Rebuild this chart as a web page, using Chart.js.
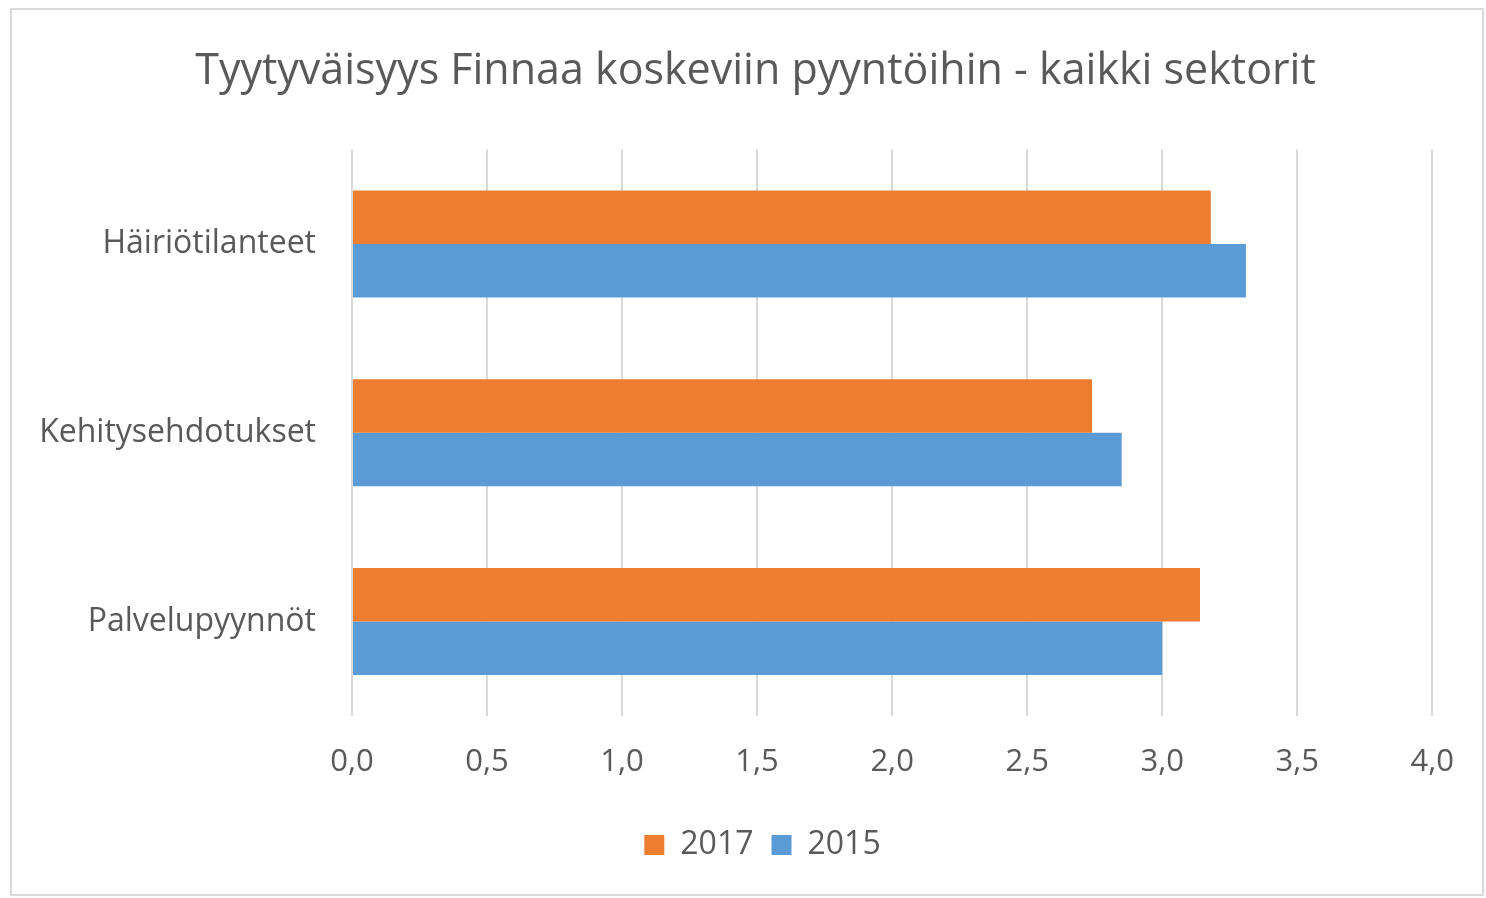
<!DOCTYPE html>
<html lang="fi">
<head>
    <meta charset="UTF-8">
    <title>Tyytyväisyys Finnaa koskeviin pyyntöihin</title>
    <script src="https://cdn.jsdelivr.net/npm/chart.js"></script>
    <style>
        html, body { margin: 0; padding: 0; background: #fff; }
        #wrap {
            position: absolute; left: 10px; top: 8px;
            width: 1474px; height: 888px;
            border: 2px solid #d9d9d9;
            box-sizing: border-box;
        }
    </style>
</head>
<body>
    <div id="wrap"><canvas id="myChart"></canvas></div>
    <script>
        // Kategoriat ja sarjat
        const categories = ['Häiriötilanteet', 'Kehitysehdotukset', 'Palvelupyynnöt'];
        const values2017 = [3.18, 2.74, 3.14];
        const values2015 = [3.31, 2.85, 3.00];
        const xTicks = [0, 0.5, 1.0, 1.5, 2.0, 2.5, 3.0, 3.5, 4.0];

        const font = '"Open Sans", "Noto Sans", sans-serif';
        const textColor = '#595959';

        // otsikko ja selite hieman oikealle, kuten Excelissä
        const shiftPlugin = {
            id: 'shiftBlocks',
            afterLayout(chart) {
                chart.titleBlock.left += 26;
                chart.titleBlock.right += 26;
                chart.legend.left += 33;
                chart.legend.right += 33;
            }
        };

        const ctx = document.getElementById('myChart').getContext('2d');
        const myChart = new Chart(ctx, {
            type: 'bar',
            data: {
                labels: categories,
                datasets: [
                    {
                        label: '2017',
                        data: values2017,
                        backgroundColor: '#ED7D31',
                        categoryPercentage: 0.567,
                        barPercentage: 1.0
                    },
                    {
                        label: '2015',
                        data: values2015,
                        backgroundColor: '#5B9BD5',
                        categoryPercentage: 0.567,
                        barPercentage: 1.0
                    }
                ]
            },
            plugins: [shiftPlugin],
            options: {
                indexAxis: 'y',
                responsive: true,
                maintainAspectRatio: false,
                animation: false,
                layout: { padding: { left: 0, right: 35, top: 0, bottom: 23 } },
                plugins: {
                    title: {
                        display: true,
                        text: 'Tyytyväisyys Finnaa koskeviin pyyntöihin - kaikki sektorit',
                        color: textColor,
                        font: { family: font, size: 43, weight: 'normal' },
                        padding: { top: 36, bottom: 52 }
                    },
                    legend: {
                        position: 'bottom',
                        labels: {
                            color: textColor,
                            font: { family: font, size: 32 },
                            boxWidth: 20,
                            boxHeight: 20,
                            padding: 18,
                            useBorderRadius: false
                        }
                    },
                    tooltip: { enabled: false }
                },
                scales: {
                    x: {
                        min: 0,
                        max: 4,
                        afterBuildTicks: axis => {
                            axis.ticks = xTicks.map(v => ({ value: v }));
                        },
                        ticks: {
                            color: textColor,
                            font: { family: font, size: 31 },
                            padding: 28,
                            callback: v => Number(v).toFixed(1).replace('.', ',')
                        },
                        grid: {
                            color: '#d9d9d9',
                            lineWidth: 2,
                            drawTicks: false
                        },
                        border: { display: false },
                        afterFit: axis => { axis.height = 95; }
                    },
                    y: {
                        ticks: {
                            color: textColor,
                            font: { family: font, size: 32 },
                            padding: 36
                        },
                        grid: { display: false, drawTicks: false },
                        border: { display: false },
                        afterFit: axis => { axis.width = 340; }
                    }
                }
            }
        });
    </script>
</body>
</html>
